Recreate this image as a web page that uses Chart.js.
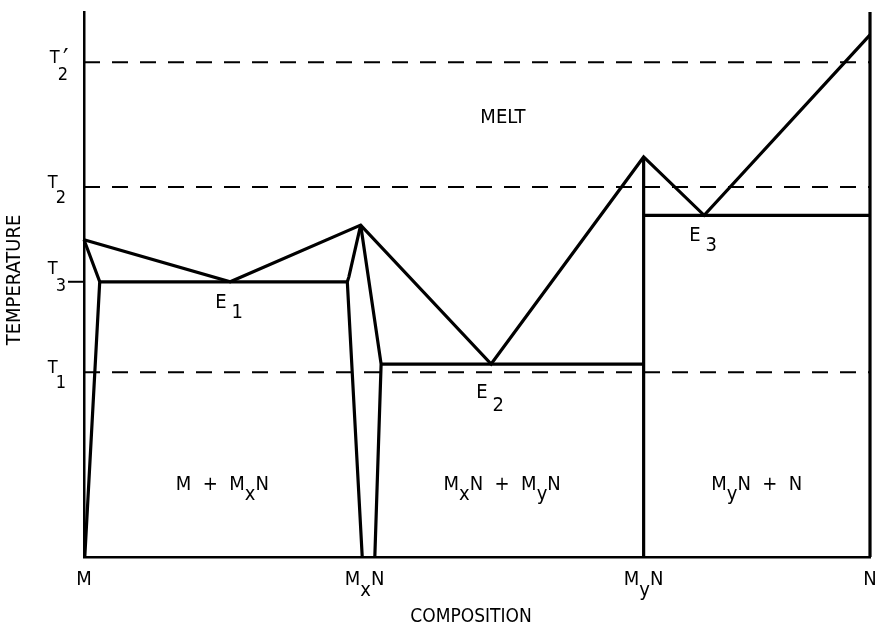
<!DOCTYPE html>
<html>
<head>
<meta charset="utf-8">
<script src="https://cdn.jsdelivr.net/npm/chart.js@4.4.0/dist/chart.umd.min.js"></script>
<style>
  html, body { margin: 0; padding: 0; background: #fff; }
  #wrap { width: 875px; height: 626px; }
</style>
</head>
<body>
<div id="wrap"><canvas id="phaseChart"></canvas></div>
<script>
// composition: 0 = M, 100 = N ; temperature in arbitrary units (0..100)
const liquidusX = [0, 18.6, 35.2, 51.8, 71.2, 78.9, 100];
const liquidusT = [58.2, 50.5, 60.9, 35.4, 73.4, 62.7, 95.8];

const solidusMX = [0, 2.0, 0.1];
const solidusMT = [58.2, 50.5, 0];

const eutectic1X = [2.0, 33.5];
const eutectic1T = [50.5, 50.5];

const mxnLeftX = [35.4, 33.5, 33.7, 35.2];
const mxnLeftT = [0, 50.5, 51.4, 60.9];
const mxnRightX = [35.2, 37.8, 37.0];
const mxnRightT = [60.9, 35.4, 0];

const eutectic2X = [37.8, 71.2];
const eutectic2T = [35.4, 35.4];

const mynX = [71.2, 71.2];
const mynT = [0, 73.4];

const eutectic3X = [71.2, 100];
const eutectic3T = [62.7, 62.7];

const pureNX = [100, 100];
const pureNT = [0, 100];

// reference isotherms (dashed) and temperature tick labels
const isotherms = [33.9, 67.9, 90.8];
const tempTicks = [33.9, 50.5, 67.9, 90.8];
const tempTickLabels = ['T_1', 'T_3', 'T_2', "T_2'"];

// composition tick labels
const compTicks = [0, 35.7, 71.2, 100];
const compTickLabels = ['M', 'M_xN', 'M_yN', 'N'];

// eutectic points
const eutecticX = [18.6, 51.8, 78.9];
const eutecticT = [50.5, 35.4, 62.7];
const eutecticLabels = ['E_1', 'E_2', 'E_3'];

// phase fields
const fieldX = [17.6, 53.2, 85.6, 53.3];
const fieldT = [12.3, 12.3, 12.3, 79.6];
const fieldLabels = ['M  +  M_xN', 'M_xN  +  M_yN', 'M_yN  +  N', 'MELT'];

const FONT = '"DejaVu Sans Condensed", "DejaVu Sans", sans-serif';

function pts(xs, ts) {
    return xs.map((x, i) => ({ x: x, y: ts[i] }));
}

function solid(xs, ts) {
    return { data: pts(xs, ts), showLine: true, borderColor: '#000', borderWidth: 3.2,
             pointRadius: 0, tension: 0, clip: false, borderJoinStyle: 'miter' };
}

// splits "M_xN" into base / subscript / prime pieces
function parse(str) {
    const parts = [];
    for (let i = 0; i < str.length; i++) {
        const c = str[i];
        if (c === '_') { parts.push([str[i + 1], 's']); i++; }
        else if (c === "'") parts.push(['\u2032', 'p']);
        else if (parts.length && parts[parts.length - 1][1] === 'n') parts[parts.length - 1][0] += c;
        else parts.push([c, 'n']);
    }
    return parts;
}

function drawRich(ctx, str, x, y, align, size, subGap, drop) {
    const parts = parse(str);
    const gap = subGap || 0;
    ctx.font = size + 'px ' + FONT;
    const widths = parts.map(p => p[1] === 'p' ? 0 : ctx.measureText(p[0]).width + (p[1] === 's' ? gap : 0));
    const total = widths.reduce((a, w) => a + w, 0);
    let cx = align === 'center' ? x - total / 2 : align === 'right' ? x - total : x;
    ctx.textAlign = 'left';
    parts.forEach((p, i) => {
        if (p[1] === 'n') {
            ctx.fillText(p[0], cx, y);
        } else if (p[1] === 's') {
            ctx.fillText(p[0], cx + gap, y + drop);
        } else {
            ctx.font = Math.round(size * 1.5) + 'px ' + FONT;
            ctx.fillText(p[0], cx - 5, y + 5);
            ctx.font = size + 'px ' + FONT;
        }
        cx += widths[i];
    });
}

const labelPlugin = {
    id: 'phaseLabels',
    afterDatasetsDraw(chart) {
        const { ctx, scales: { x, y } } = chart;
        ctx.save();
        ctx.fillStyle = '#000';
        ctx.strokeStyle = '#000';
        ctx.textBaseline = 'alphabetic';

        // temperature ticks
        tempTicks.forEach((t, i) => {
            const py = y.getPixelForValue(t);
            const lab = tempTickLabels[i];
            if (lab === 'T_3') {
                ctx.lineWidth = 2;
                ctx.beginPath();
                ctx.moveTo(x.left - 16, py);
                ctx.lineTo(x.left, py);
                ctx.stroke();
                drawRich(ctx, lab, x.left - 18, py - 8, 'right', 18, -2, 17);
            } else if (lab === "T_2'") {
                drawRich(ctx, lab, x.left - 16, py + 1, 'right', 18, -2, 17);
            } else {
                drawRich(ctx, lab, x.left - 18, py + 1, 'right', 18, -2, 15);
            }
        });

        // composition ticks
        compTicks.forEach((c, i) => {
            drawRich(ctx, compTickLabels[i], x.getPixelForValue(c), y.bottom + 28, 'center', 20, 0, 11);
        });

        // eutectic labels
        const eDrop = [26, 34, 26];
        const eSub = [10, 13, 10];
        eutecticX.forEach((c, i) => {
            const px = x.getPixelForValue(c);
            const py = y.getPixelForValue(eutecticT[i]);
            drawRich(ctx, eutecticLabels[i], px - 15, py + eDrop[i], 'left', 20, 5, eSub[i]);
        });

        // phase field labels
        fieldLabels.forEach((lab, i) => {
            drawRich(ctx, lab, x.getPixelForValue(fieldX[i]), y.getPixelForValue(fieldT[i]), 'center', 20, 0, 10);
        });

        // axis titles
        ctx.font = '19px ' + FONT;
        ctx.textAlign = 'center';
        ctx.fillText('COMPOSITION', 471, y.bottom + 65);

        ctx.translate(15, 280);
        ctx.rotate(-Math.PI / 2);
        ctx.font = '20px ' + FONT;
        ctx.textBaseline = 'middle';
        ctx.fillText('TEMPERATURE', 0, 0);
        ctx.restore();
    }
};

const datasets = [];
isotherms.forEach(t => {
    datasets.push({ data: pts([0, 100], [t, t]), showLine: true, borderColor: '#000', borderWidth: 2,
                    borderDash: [16, 12], pointRadius: 0, clip: false });
});
datasets.push(solid(liquidusX, liquidusT));
datasets.push(solid(solidusMX, solidusMT));
datasets.push(solid(eutectic1X, eutectic1T));
datasets.push(solid(mxnLeftX, mxnLeftT));
datasets.push(solid(mxnRightX, mxnRightT));
datasets.push(solid(eutectic2X, eutectic2T));
datasets.push(solid(mynX, mynT));
datasets.push(solid(eutectic3X, eutectic3T));
datasets.push(solid(pureNX, pureNT));

const axisOpts = {
    type: 'linear', min: 0, max: 100,
    ticks: { display: false },
    grid: { display: false, drawTicks: false },
    border: { display: true, color: '#000', width: 2.5 }
};

new Chart(document.getElementById('phaseChart'), {
    type: 'scatter',
    data: { datasets: datasets },
    options: {
        responsive: true,
        maintainAspectRatio: false,
        animation: false,
        layout: { padding: { left: 84, right: 5, top: 12, bottom: 69 } },
        plugins: { legend: { display: false }, tooltip: { enabled: false } },
        scales: { x: axisOpts, y: axisOpts }
    },
    plugins: [labelPlugin]
});
</script>
</body>
</html>
